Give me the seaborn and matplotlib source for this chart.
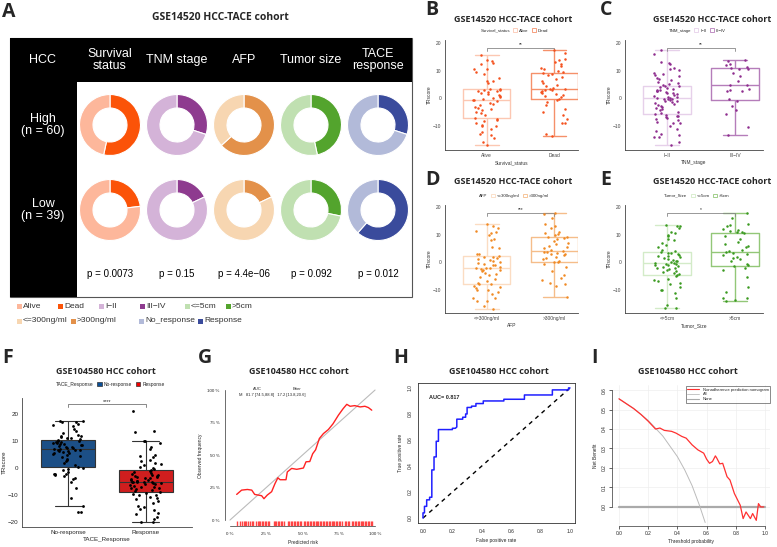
import numpy as np
import pandas as pd
import matplotlib
matplotlib.use('Agg')
import matplotlib.pyplot as plt
import seaborn as sns
from matplotlib.patches import Rectangle, Patch
from matplotlib.lines import Line2D

W, H = 777, 547

# ---------------- data ----------------
# panel A: donut charts (counts of the darker level per risk group)
a_cols = ['Survival\nstatus', 'TNM stage', 'AFP', 'Tumor size', 'TACE\nresponse']
a_rows = ['High\n(n = 60)', 'Low\n(n = 39)']
a_n = [60, 39]
a_high = [32, 18, 38, 28, 18]
a_low = [9, 7, 7, 11, 24]
a_pvals = ['p = 0.0073', 'p = 0.15', 'p = 4.4e\u221206', 'p = 0.092', 'p = 0.012']
a_levels = [('Alive', 'Dead'), ('I\u2212II', 'III\u2212IV'), ('<=300ng/ml', '>300ng/ml'),
            ('<=5cm', '>5cm'), ('No_response', 'Response')]
a_colors = [('#FDB79B', '#FB5308'), ('#D4B3D8', '#8E3B8F'), ('#F7D6B1', '#E3914A'),
            ('#C0E0B1', '#53A42D'), ('#B2BAD9', '#3A4B9C')]

# panels B-E: TRscore by clinical group
alive = [-17.0, -16.0, -14.5, -13.3, -13.0, -12.2, -11.0, -10.2, -10.0, -9.8, -8.9, -8.4, -7.8, -7.4,
         -7.0, -6.2, -5.5, -4.8, -4.3, -3.9, -3.5, -3.0, -2.4, -2.0, -1.6, -1.0, -0.7,
         -0.6, -0.3, 0.0, 0.4, 0.8, 1.2, 1.6, 1.9, 2.2, 2.5, 2.8, 3.0, 3.2, 3.3,
         3.5, 5.5, 6.2, 6.4, 7.5, 8.8, 9.5, 10.5, 10.8, 12.4, 12.9, 13.5, 14.0, 15.9]
dead = [-13.8, -12.8, -9.0, -8.8, -7.5, -6.2, -5.0, -4.0, -2.5, -1.5, -0.6,
        -0.2, 0.3, 0.8, 1.2, 1.7, 2.0, 2.3, 2.6, 2.9, 3.1, 3.3,
        3.4, 3.8, 4.5, 5.0, 5.5, 6.3, 7.0, 7.8, 8.5, 9.0, 9.3,
        9.6, 10.0, 10.5, 11.0, 11.8, 12.3, 13.3, 13.8, 14.2, 16.5, 17.7]
tnm_low = [-17.0, -16.0, -14.2, -14.0, -13.5, -12.8, -11.8, -11.0, -10.2, -9.0, -8.8, -8.5, -8.0, -7.5,
           -7.0, -6.8, -6.5, -6.3, -6.0,
           -5.7, -5.2, -4.8, -4.3, -4.0, -3.6, -3.2, -2.8, -2.4, -2.0, -1.7, -1.4, -1.1, -0.8, -0.6,
           -0.4, -0.2, -0.1, 0.0,
           0.2, 0.4, 0.6, 0.9, 1.2, 1.5, 1.8, 2.0, 2.3, 2.5, 2.8, 3.0, 3.2, 3.5, 3.8, 4.0, 4.3, 4.5,
           4.8, 5.2, 5.6, 6.0, 6.5, 7.0, 7.5, 8.0, 8.5, 9.0, 9.3, 10.2, 10.5, 11.0, 12.5, 13.0, 13.3,
           16.0, 17.7]
tnm_high = [-13.2, -10.3, -5.6, -4.2, -2.8, -0.8, -0.4, 2.5, 2.7, 3.0, 3.3, 4.8, 5.0, 6.3, 8.2, 9.3,
            10.5, 10.8, 11.0, 11.5, 12.0, 12.5, 13.6, 14.0]
afp_low = [-17.0, -16.0, -14.2, -14.0, -13.2, -13.0, -11.5, -10.8, -10.2, -10.0, -9.5, -9.0, -8.6, -8.1,
           -7.8, -7.5, -6.8, -6.0, -5.5, -4.8, -4.2, -3.8, -3.3, -3.0, -2.7, -2.5, -2.3, -2.2,
           -2.0, -1.6, -1.2, -0.9, -0.6, -0.3, 0.0, 0.4, 0.8, 1.2, 1.5, 1.8, 2.0,
           2.3, 2.8, 3.0, 5.0, 5.5, 8.0, 8.5, 10.0, 10.5, 10.8, 11.5, 12.5, 13.3, 14.0]
afp_high = [-12.8, -8.8, -8.0, -7.5, -6.5, -5.8, -4.5, -3.2, -1.8, -0.5, -0.1,
            0.1, 0.5, 1.0, 1.5, 2.0, 2.5, 2.8, 3.0, 3.3, 3.6, 3.8,
            4.0, 4.4, 5.0, 5.5, 6.0, 6.5, 7.0, 7.8, 8.3, 8.8, 9.0,
            9.3, 9.8, 10.2, 10.6, 11.0, 12.5, 13.3, 13.8, 16.0, 17.5, 17.9]
size_low = [-16.8, -16.5, -15.5, -13.0, -11.2, -10.2, -10.0, -9.0, -8.0, -7.5, -7.0, -6.5, -6.0, -5.2, -4.8,
            -4.4, -4.0, -3.6, -3.3, -3.0, -2.6, -2.3, -2.0, -1.7, -1.4, -1.1, -0.9, -0.7, -0.5, -0.4,
            -0.3, 0.0, 0.3, 0.6, 0.9, 1.2, 1.5, 1.8, 2.1, 2.4, 2.7, 3.0, 3.2, 3.4, 3.6,
            3.9, 4.5, 5.5, 6.2, 7.0, 8.0, 8.3, 9.5, 10.0, 10.5, 10.8, 12.5, 13.0, 13.3, 13.7]
size_high = [-14.1, -13.8, -13.2, -13.0, -11.0, -9.0, -5.5, -3.0, -2.0, -1.5,
             -1.0, -0.6, 0.5, 1.0, 1.5, 2.0, 2.5, 3.0, 3.5, 3.7,
             4.0, 4.5, 5.5, 6.0, 6.5, 7.5, 8.5, 9.5, 10.5, 10.8,
             11.0, 11.3, 11.8, 12.0, 13.0, 13.5, 14.0, 16.0, 17.9]

# panel F
no_resp = [-16.3, -16.2, -14.2, -11.2, -7.5, -5.0, -4.0, -3.5, -3.0, -2.5, -2.3, -2.2, -2.0, -1.5, -0.8, -0.3, 0.0,
           0.3, 1.0, 1.8, 2.5, 3.0, 3.5, 4.0, 4.5, 4.8, 5.2, 5.5, 5.8, 6.0, 6.2, 6.4, 6.6, 6.7,
           6.9, 7.0, 7.2, 7.4, 7.6, 7.8, 8.0, 8.2, 8.4, 8.6, 8.8, 9.0, 9.2, 9.4, 9.6, 9.8, 10.0, 10.1,
           10.4, 10.8, 11.0, 11.2, 11.5, 11.8, 12.0, 12.3, 13.0, 13.8, 14.5, 15.5, 16.0, 16.5, 17.0, 17.2,
           17.5, 17.6]
resp = [-20.0, -20.0, -19.0, -18.0, -17.0, -16.5, -15.5, -15.0, -14.5, -14.0, -13.0, -12.0, -11.5, -11.0,
        -10.5, -10.0, -9.8, -9.5, -9.2,
        -8.8, -8.5, -8.0, -7.8, -7.5, -7.2, -7.0, -6.8, -6.5, -6.3, -6.0, -5.8, -5.6, -5.4, -5.3, -5.2,
        -5.1, -5.05, -5.0,
        -4.8, -4.6, -4.4, -4.2, -4.0, -3.8, -3.6, -3.4, -3.2, -3.0, -2.8, -2.6, -2.4, -2.2, -1.8, -1.4,
        -1.0, -0.7,
        -0.3, 0.0, 0.5, 1.0, 1.5, 2.0, 2.5, 3.0, 4.0, 4.5, 5.0, 7.0, 8.0, 9.5, 10.0, 10.2, 13.3, 13.6, 21.2]

# panel G: calibration
cal_pred = [4.6, 8, 12, 15, 17, 21.8, 23.4, 25.7, 28.7, 31, 33, 34.5, 38.6, 39.5, 42.5, 46, 50.6, 52.4,
            55, 57, 59, 61.6, 64.4, 67.8, 71, 74.7, 78, 80.5, 82.8, 86, 89.7, 93, 95.4, 97.7]
cal_obs = [19.7, 23, 23.5, 23, 19.7, 18.7, 16.4, 19.2, 21.8, 28, 32.5, 31, 31, 37, 39.7, 39, 40, 44.8,
           45, 51, 54, 62.7, 66.5, 69.6, 74, 80.6, 85.7, 89, 87.5, 88, 87, 87.5, 86.5, 84.5]
ideal = [0, 100]
rug_pred = [5, 7, 8, 9.5, 10, 11, 12.5, 14, 15, 16, 18, 19, 20, 21, 22, 23, 24, 25, 26, 27, 30, 31, 32,
            33, 34, 35, 36, 37, 40, 41, 42, 43, 44, 45, 46, 47, 48, 49, 51, 52, 53, 54, 55, 56, 57, 58,
            59, 60, 61, 62, 63, 64, 65, 66, 67, 68, 69, 70, 71, 72, 73, 74, 75, 76, 77, 79, 80, 81, 82,
            84, 85, 86, 87, 88, 89, 90, 91, 92, 93, 94, 95, 96, 97, 98]

# panel H: ROC
roc_fpr = [0, 0, 0.01, 0.01, 0.025, 0.025, 0.045, 0.045, 0.06, 0.06, 0.075, 0.075, 0.09, 0.09, 0.105,
           0.105, 0.2, 0.2, 0.22, 0.23, 0.23, 0.27, 0.27, 0.29, 0.29, 0.30, 0.30, 0.33, 0.33, 0.36, 0.36,
           0.41, 0.41, 0.55, 0.55, 0.69, 0.69, 0.88, 0.88, 0.99, 0.99, 1.0]
roc_tpr = [0, 0.04, 0.04, 0.09, 0.09, 0.14, 0.14, 0.16, 0.16, 0.37, 0.37, 0.47, 0.47, 0.59, 0.59,
           0.68, 0.68, 0.69, 0.69, 0.70, 0.76, 0.76, 0.775, 0.775, 0.80, 0.80, 0.85, 0.85, 0.86, 0.86,
           0.88, 0.88, 0.90, 0.90, 0.913, 0.913, 0.946, 0.946, 0.985, 0.985, 1.0, 1.0]
chance = [0, 1]

# panel I: decision curve
dca_thr = [0, 0.05, 0.1, 0.15, 0.2, 0.25, 0.28, 0.31, 0.36, 0.39, 0.43, 0.46, 0.5, 0.54, 0.58, 0.6,
           0.62, 0.64, 0.66, 0.67, 0.69, 0.71, 0.74, 0.76, 0.79, 0.83, 0.85, 0.87, 0.9, 0.915, 0.94,
           0.955, 0.97, 0.99]
dca_model = [0.555, 0.53, 0.505, 0.475, 0.44, 0.40, 0.405, 0.393, 0.388, 0.379, 0.362, 0.353, 0.319,
             0.293, 0.276, 0.245, 0.224, 0.233, 0.262, 0.25, 0.221, 0.224, 0.155, 0.138, 0.069, 0.009,
             -0.06, -0.026, -0.06, -0.034, -0.069, 0.017, 0.0, 0.0]
all_thr = [0, 0.1, 0.2, 0.3, 0.4, 0.45, 0.5, 0.55, 0.59]
all_nb = [0.555, 0.506, 0.444, 0.364, 0.258, 0.19, 0.11, 0.01, -0.08]
none_thr = [0, 1]
none_nb = [0, 0]

# ---------------- helpers ----------------
sns.set_style('white')
plt.rcParams['font.family'] = ['Liberation Sans', 'DejaVu Sans']
plt.rcParams['axes.linewidth'] = 0.6

fig = plt.figure(figsize=(7.77, 5.47), dpi=100)


def px_axes(x0, y0, x1, y1):
    return fig.add_axes([x0 / W, 1 - y1 / H, (x1 - x0) / W, (y1 - y0) / H])


def ftext(x, y, s, **kw):
    fig.text(x / W, 1 - y / H, s, **kw)


def letter(x, y, s):
    ftext(x, y, s, fontsize=14, fontweight='bold', family='Open Sans', va='center', ha='left')


def ptitle(x, y, s, size=6.5):
    ftext(x, y, s, fontsize=size, fontweight='bold', family='Open Sans', va='center', ha='center')


# ---------------- panel A ----------------
axA = px_axes(0, 0, 415, 335)
Y = lambda y: H - y

axA.add_patch(Rectangle((10, Y(297)), 402, 259, facecolor='white', edgecolor='#555555', lw=0.8))
axA.add_patch(Rectangle((10, Y(82)), 402, 44, facecolor='black', edgecolor='none'))
axA.add_patch(Rectangle((10, Y(297)), 67, 259, facecolor='black', edgecolor='none'))
axA.text(43, Y(60), 'HCC', color='white', fontsize=9, ha='center', va='center')
for i, lab in enumerate(a_cols):
    cx = 110 + i * 67
    axA.text(cx, Y(60), lab, color='white', fontsize=9, ha='center', va='center', linespacing=1.0)
    axA.text(cx, Y(274), a_pvals[i], color='black', fontsize=7, ha='center', va='center')
for r, lab in enumerate(a_rows):
    cy = 125 + r * 85
    axA.text(43, Y(cy), lab, color='white', fontsize=9, ha='center', va='center', linespacing=1.1)
    counts = a_high if r == 0 else a_low
    for i in range(5):
        cx = 110 + i * 67
        axA.pie([counts[i], a_n[r] - counts[i]], colors=[a_colors[i][1], a_colors[i][0]],
                center=(cx, Y(cy)), radius=30.5, startangle=90, counterclock=False, frame=True,
                wedgeprops=dict(width=13.5, edgecolor='white', linewidth=0.8))
axA.set_xlim(0, 415)
axA.set_ylim(H - 335, H)
axA.set_aspect('auto')
axA.axis('off')

leg_pos = [(17, 306), (58, 306), (99, 306), (140, 306), (185, 306), (226, 306),
           (17, 321), (71, 321), (139, 321), (198, 321)]
leg_items = [(a_levels[0][0], a_colors[0][0]), (a_levels[0][1], a_colors[0][1]),
             (a_levels[1][0], a_colors[1][0]), (a_levels[1][1], a_colors[1][1]),
             (a_levels[3][0], a_colors[3][0]), (a_levels[3][1], a_colors[3][1]),
             (a_levels[2][0], a_colors[2][0]), (a_levels[2][1], a_colors[2][1]),
             (a_levels[4][0], a_colors[4][0]), (a_levels[4][1], a_colors[4][1])]
for (lx, ly), (lab, col) in zip(leg_pos, leg_items):
    axA.add_patch(Rectangle((lx, Y(ly) - 2.5), 5, 5, facecolor=col, edgecolor='none'))
    axA.text(lx + 6, Y(ly), lab, fontsize=6, va='center', ha='left', color='#333333')

letter(2, 12, 'A')
ptitle(220, 18, 'GSE14520 HCC-TACE cohort', size=7.5)


# ---------------- panels B-E ----------------
def box_panel(box, var, levels, values, edge_cols, pt_col, stars, ylim, xlim):
    ax = px_axes(*box)
    df = pd.DataFrame({var: np.repeat(levels, [len(v) for v in values]),
                       'TRscore': np.concatenate(values)})
    sns.boxplot(data=df, x=var, y='TRscore', hue=var, palette=edge_cols, fill=False, width=0.7,
                showfliers=False, linewidth=1.0, legend=False, ax=ax)
    sns.stripplot(data=df, x=var, y='TRscore', color=pt_col, size=1.8, jitter=0.2, ax=ax)
    ax.set_ylim(*ylim)
    ax.set_xlim(*xlim)
    sns.despine(ax=ax)
    for s in ['left', 'bottom']:
        ax.spines[s].set_color('#444444')
        ax.spines[s].set_linewidth(0.6)
    ax.set_yticks([-10, 0, 10, 20])
    ax.tick_params(labelsize=3.5, length=1.5, width=0.5, pad=1, colors='#444444')
    ax.set_xlabel(var, fontsize=3.5, labelpad=1, color='#333333')
    ax.set_ylabel('TRscore', fontsize=3.5, labelpad=1, color='#333333')
    top = ylim[1] - 0.07 * (ylim[1] - ylim[0])
    ax.plot([0, 0, 1, 1], [top - 1.2, top, top, top - 1.2], color='#888888', lw=0.6)
    ax.text(0.5, top + 0.3, stars, fontsize=3.5, ha='center', va='bottom')
    handles = [Patch(alpha=0)] + [Patch(facecolor='white', edgecolor=c, lw=0.6) for c in edge_cols]
    ax.legend(handles, [var] + list(levels), ncol=3, fontsize=3.2, frameon=False, loc='lower center',
              bbox_to_anchor=(0.5, 1.05), handlelength=0.9, handleheight=0.8, handletextpad=0.4,
              columnspacing=0.8, borderaxespad=0)
    return ax


box_panel((445, 40, 578, 150), 'Survival_status', ['Alive', 'Dead'], [alive, dead],
          ['#FCC7B2', '#F5906A'], '#F4511E', '**', (-18.8, 21.2), (-0.62, 1.35))
box_panel((625, 40, 763, 150), 'TNM_stage', ['I\u2212II', 'III\u2212IV'], [tnm_low, tnm_high],
          ['#E6D0EA', '#B57DBA'], '#8E2D8E', '**', (-18.8, 21.2), (-0.62, 1.41))
box_panel((445, 205, 578, 313), 'AFP', ['<=300ng/ml', '>300ng/ml'], [afp_low, afp_high],
          ['#FBDCC2', '#F5BD8A'], '#F08A24', '***', (-18.5, 20.8), (-0.62, 1.35))
box_panel((625, 205, 763, 313), 'Tumor_Size', ['<=5cm', '>5cm'], [size_low, size_high],
          ['#D3EBC8', '#93C778'], '#3A9A20', '*', (-18.5, 20.8), (-0.62, 1.41))

letter(425, 10, 'B')
ptitle(513, 19, 'GSE14520 HCC-TACE cohort')
letter(600, 10, 'C')
ptitle(712, 19, 'GSE14520 HCC-TACE cohort')
letter(425, 180, 'D')
ptitle(513, 182, 'GSE14520 HCC-TACE cohort')
letter(600, 180, 'E')
ptitle(712, 182, 'GSE14520 HCC-TACE cohort')

# ---------------- panel F ----------------
axF = px_axes(22, 398, 192, 527)
f_levels = ['No-response', 'Response']
f_cols = ['#0B4F97', '#EE0000']
dfF = pd.DataFrame({'TACE_Response': np.repeat(f_levels, [len(no_resp), len(resp)]),
                    'TRscore': np.concatenate([no_resp, resp])})
sns.boxplot(data=dfF, x='TACE_Response', y='TRscore', hue='TACE_Response', palette=f_cols, width=0.7,
            showfliers=False, linewidth=0.8, linecolor='#333333', legend=False, ax=axF)
sns.stripplot(data=dfF, x='TACE_Response', y='TRscore', color='black', size=2.0, jitter=0.2, ax=axF)
axF.set_xlim(-0.6, 1.6)
axF.set_ylim(-21.8, 26)
sns.despine(ax=axF)
for s in ['left', 'bottom']:
    axF.spines[s].set_color('#444444')
axF.set_yticks([-20, -10, 0, 10, 20])
axF.tick_params(labelsize=4.5, length=1.5, width=0.5, pad=1)
axF.set_xlabel('TACE_Response', fontsize=4.5, labelpad=1)
axF.set_ylabel('TRscore', fontsize=4.5, labelpad=1)
axF.plot([0, 0, 1, 1], [22.5, 23.6, 23.6, 22.5], color='#888888', lw=0.7)
axF.text(0.5, 23.8, '****', fontsize=4, ha='center', va='bottom')
hF = [Patch(alpha=0)] + [Patch(facecolor=c, edgecolor='#333333', lw=0.5) for c in f_cols]
axF.legend(hF, ['TACE_Response'] + f_levels, ncol=3, fontsize=3.5, frameon=False, loc='lower center',
           bbox_to_anchor=(0.5, 1.07), handlelength=0.9, handleheight=0.8, handletextpad=0.4,
           columnspacing=0.8, borderaxespad=0)
letter(2, 358, 'F')
ptitle(106, 372, 'GSE104580 HCC cohort')

# ---------------- panel G ----------------
axG = px_axes(225, 386, 380, 526)
sns.lineplot(x=ideal, y=ideal, color='#BBBBBB', lw=0.8, ax=axG)
sns.lineplot(x=cal_pred, y=cal_obs, sort=False, estimator=None, color='#FF2222', lw=1.0, ax=axG)
sns.rugplot(x=rug_pred, height=0.035, color='#FF4444', lw=0.5, ax=axG)
axG.set_xlim(-3.45, 103.4)
axG.set_ylim(-4.6, 103.1)
sns.despine(ax=axG)
axG.spines['left'].set_bounds(0, 100)
axG.spines['bottom'].set_bounds(0, 100)
for s in ['left', 'bottom']:
    axG.spines[s].set_color('#333333')
    axG.spines[s].set_linewidth(0.5)
axG.set_xticks([0, 25, 50, 75, 100], ['0 %', '25 %', '50 %', '75 %', '100 %'])
axG.set_yticks([0, 25, 50, 75, 100], ['0 %', '25 %', '50 %', '75 %', '100 %'])
axG.tick_params(labelsize=3.2, length=2, width=0.5, pad=2)
axG.set_xlabel('Predicted risk', fontsize=3.5, labelpad=3)
axG.set_ylabel('Observed frequency', fontsize=3.5, labelpad=3)
axG.text(19, 99.5, 'AUC', fontsize=3.0, ha='center', va='bottom')
axG.text(46, 99.5, 'Brier', fontsize=3.0, ha='center', va='bottom')
axG.text(6, 96, 'M   81.7 [74.5,88.8]   17.2 [13.8,20.6]', fontsize=3.0, ha='left', va='center')
letter(198, 358, 'G')
ptitle(299, 372, 'GSE104580 HCC cohort')

# ---------------- panel H ----------------
axH = px_axes(418, 383, 575, 523)
sns.lineplot(x=chance, y=chance, color='black', lw=1.0, ls=(0, (3, 3)), ax=axH)
sns.lineplot(x=roc_fpr, y=roc_tpr, sort=False, estimator=None, color='#1F1FFF', lw=1.1, ax=axH)
axH.set_xlim(-0.034, 1.034)
axH.set_ylim(-0.038, 1.038)
for s in axH.spines.values():
    s.set_color('#333333')
    s.set_linewidth(0.6)
axH.set_xticks([0, 0.2, 0.4, 0.6, 0.8, 1.0], ['0.0', '0.2', '0.4', '0.6', '0.8', '1.0'])
axH.set_yticks([0, 0.2, 0.4, 0.6, 0.8, 1.0], ['0.0', '0.2', '0.4', '0.6', '0.8', '1.0'])
axH.tick_params(labelsize=3.5, length=2, width=0.5, pad=2)
plt.setp(axH.get_yticklabels(), rotation=90, va='center')
axH.set_xlabel('False positive rate', fontsize=3.5, labelpad=3)
axH.set_ylabel('True positive rate', fontsize=3.5, labelpad=3)
axH.text(0.04, 0.93, 'AUC= 0.817', fontsize=4, fontweight='bold', ha='left', va='center')
letter(393, 358, 'H')
ptitle(499, 372, 'GSE104580 HCC cohort')

# ---------------- panel I ----------------
axI = px_axes(612, 385, 770, 526)
axI.set_xlim(-0.048, 1.034)
axI.set_ylim(-0.098, 0.626)
axI.set_xticks([0, 0.2, 0.4, 0.6, 0.8, 1.0], ['0.0', '0.2', '0.4', '0.6', '0.8', '1.0'])
axI.set_yticks([0, 0.1, 0.2, 0.3, 0.4, 0.5, 0.6], ['0.0', '0.1', '0.2', '0.3', '0.4', '0.5', '0.6'])
axI.grid(True, color='#EEEEEE', lw=0.5)
sns.lineplot(x=none_thr, y=none_nb, color='#AAAAAA', lw=1.6, ax=axI)
sns.lineplot(x=all_thr, y=all_nb, sort=False, estimator=None, color='#BBBBBB', lw=0.7, ax=axI)
sns.lineplot(x=dca_thr, y=dca_model, sort=False, estimator=None, color='#FF3030', lw=0.9, ax=axI)
sns.despine(ax=axI)
axI.spines['left'].set_bounds(0, 0.6)
axI.spines['bottom'].set_bounds(0, 1)
for s in ['left', 'bottom']:
    axI.spines[s].set_color('#333333')
    axI.spines[s].set_linewidth(0.5)
axI.tick_params(labelsize=3.5, length=2, width=0.5, pad=1.5, left=True, bottom=True)
plt.setp(axI.get_yticklabels(), rotation=90, va='center')
axI.set_xlabel('Threshold probability', fontsize=3.5, labelpad=2)
axI.set_ylabel('Net Benefit', fontsize=3.5, labelpad=3)
hI = [Line2D([], [], color='#FF3030', lw=0.8), Line2D([], [], color='#BBBBBB', lw=0.6),
      Line2D([], [], color='#AAAAAA', lw=0.8)]
legI = axI.legend(hI, ['Nonadherence prediction nomogram', 'All', 'None'], loc='upper right',
                  bbox_to_anchor=(1.0, 0.99), fontsize=3.0, frameon=True, fancybox=False,
                  handlelength=3, borderaxespad=0, labelspacing=0.2, borderpad=0.3)
legI.get_frame().set_edgecolor('#333333')
legI.get_frame().set_linewidth(0.5)
letter(591, 358, 'I')
ptitle(688, 372, 'GSE104580 HCC cohort')

fig.savefig('out.png', dpi=100)
